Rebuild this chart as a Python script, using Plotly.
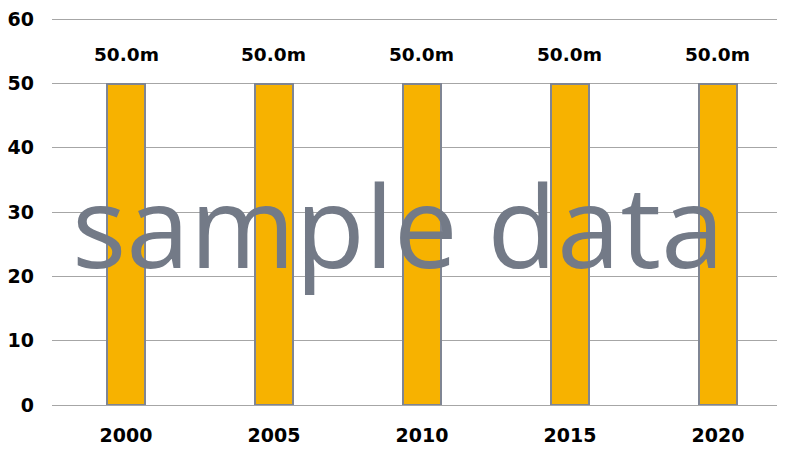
import plotly.graph_objects as go

years = ["2000", "2005", "2010", "2015", "2020"]
values = [50.0, 50.0, 50.0, 50.0, 50.0]
bar_labels = ["50.0m", "50.0m", "50.0m", "50.0m", "50.0m"]
y_ticks = [0, 10, 20, 30, 40, 50, 60]

fig = go.Figure()

fig.add_trace(go.Bar(
    x=years,
    y=values,
    width=0.257,
    marker=dict(color="#f7b200", line=dict(color="#7f8593", width=2)),
    hoverinfo="skip",
))

# value labels above the bars (x by category index)
for i, (v, lab) in enumerate(zip(values, bar_labels)):
    fig.add_annotation(
        x=i, y=v, text="<b>" + lab + "</b>", showarrow=False,
        yshift=29, font=dict(family="DejaVu Sans", size=18.5, color="#000000"),
    )

# watermark
fig.add_annotation(
    xref="paper", yref="paper", x=0.472, y=0.467,
    text="sample data", showarrow=False,
    font=dict(family="Open Sans", size=114, color="#737a87"),
)

# page body adds an 8px offset; margins account for it
fig.update_layout(
    width=785, height=452,
    margin=dict(l=44, r=8, t=8, b=55),
    plot_bgcolor="white", paper_bgcolor="white",
    showlegend=False,
    bargap=0,
    font=dict(family="DejaVu Sans", color="#000000"),
)
fig.update_xaxes(
    type="category", range=[-0.5, 4.453], automargin=False,
    showgrid=False, showline=False, zeroline=False,
    ticks="", ticklabelstandoff=17, ticklabeloverflow="allow",
    tickfont=dict(family="DejaVu Sans", size=19, color="#000000", weight="bold"),
)
fig.update_yaxes(
    range=[0, 60.5], tickvals=y_ticks, automargin=False,
    showgrid=True, gridcolor="#a6a6a6", gridwidth=1,
    zeroline=True, zerolinecolor="#a6a6a6", zerolinewidth=1,
    showline=False, ticks="", ticklabelstandoff=17, ticklabeloverflow="allow",
    tickfont=dict(family="DejaVu Sans", size=19, color="#000000", weight="bold"),
)

fig.write_html("out.html")
